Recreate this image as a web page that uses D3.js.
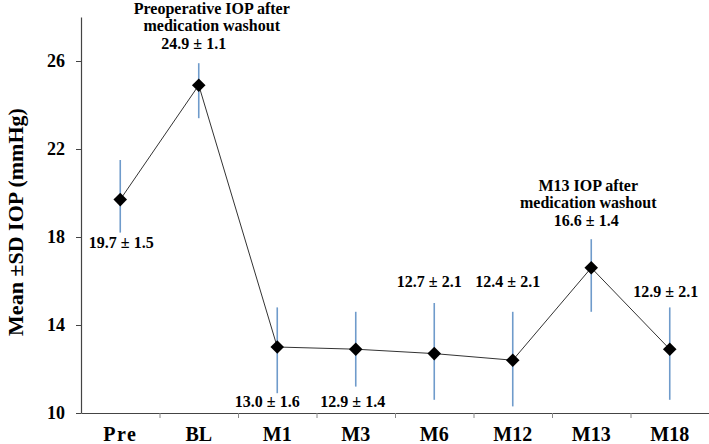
<!DOCTYPE html>
<html>
<head>
<meta charset="utf-8">
<script src="https://cdn.jsdelivr.net/npm/d3@7"></script>
</head>
<body style="margin:0;padding:0;background:#fff">
<svg id="chart" width="709" height="444" style="display:block;background:#fff"></svg>
<script>
// ---- data ----
const categories = ["Pre", "BL", "M1", "M3", "M6", "M12", "M13", "M18"];
const means      = [19.7, 24.9, 13.0, 12.9, 12.7, 12.4, 16.6, 12.9];
const errLow     = [18.2, 23.4, 10.9, 11.2, 10.6, 10.3, 14.6, 10.6];
const errHigh    = [21.5, 25.9, 14.8, 14.6, 15.0, 14.6, 17.9, 14.8];
const valueLabels = ["19.7 \u00b1 1.5", "24.9 \u00b1 1.1", "13.0 \u00b1 1.6", "12.9 \u00b1 1.4",
                     "12.7 \u00b1 2.1", "12.4 \u00b1 2.1", "16.6 \u00b1 1.4", "12.9 \u00b1 2.1"];
const yTicks = [10, 14, 18, 22, 26];
const yTitle = "Mean \u00b1SD IOP (mmHg)";
const noteBL  = ["Preoperative IOP after", "medication washout"];
const noteM13 = ["M13 IOP after", "medication washout"];

// ---- layout ----
const FONT = '"Liberation Serif", "Times New Roman", Tinos, serif';
const svg = d3.select("#chart");
const mLeft = 81, mRight = 709, mTop = 17, mBottom = 413;

const x = d3.scaleBand().domain(categories).range([mLeft, mRight]).padding(0);
const xb = d3.scaleLinear().domain([0, categories.length]).range([mLeft, mRight]);
const y = d3.scaleLinear().domain([10, 28]).range([mBottom, mTop]);
const cx = c => x(c) + x.bandwidth() / 2;

function styleText(sel, size) {
  sel.style("font-family", FONT).style("font-weight", "bold").style("font-size", size + "px").attr("fill", "#000");
}

// y axis
const yAxis = svg.append("g").attr("transform", `translate(${mLeft},0)`)
  .call(d3.axisLeft(y).tickValues(yTicks).tickSize(5).tickPadding(11).tickSizeOuter(0).tickFormat(d3.format("d")));
yAxis.attr("font-family", null);
yAxis.select(".domain").attr("stroke", "#444").attr("stroke-width", 1.2);
yAxis.selectAll(".tick line").attr("stroke", "#444");
styleText(yAxis.selectAll("text"), 18);

// x axis: boundary ticks
const xAxisB = svg.append("g").attr("transform", `translate(0,${mBottom})`)
  .call(d3.axisBottom(xb).tickValues(d3.range(1, categories.length + 1)).tickSize(5).tickSizeOuter(0).tickFormat(""));
xAxisB.select(".domain").attr("stroke", "#444").attr("stroke-width", 1.2);
xAxisB.selectAll(".tick line").attr("stroke", "#888");

// x labels
const xAxisL = svg.append("g").attr("transform", `translate(0,${mBottom})`)
  .call(d3.axisBottom(x).tickSize(0).tickPadding(14));
xAxisL.attr("font-family", null);
xAxisL.select(".domain").remove();
styleText(xAxisL.selectAll("text"), 20);
xAxisL.selectAll("text").filter(d => d === "Pre").style("letter-spacing", "1.5px");

// y title
styleText(svg.append("text")
  .attr("transform", `translate(23,222) rotate(-90)`)
  .attr("text-anchor", "middle")
  .text(yTitle), 22);

// error bars
svg.append("g").selectAll("line").data(categories).join("line")
  .attr("x1", c => cx(c)).attr("x2", c => cx(c))
  .attr("y1", (c, i) => y(errLow[i])).attr("y2", (c, i) => y(errHigh[i]))
  .attr("stroke", "#6f9bcb").attr("stroke-width", 1.6);

// line
const line = d3.line().x((d, i) => cx(categories[i])).y(d => y(d));
svg.append("path").datum(means).attr("d", line)
  .attr("fill", "none").attr("stroke", "#333").attr("stroke-width", 1);

// markers
const diamond = d3.symbol(d3.symbolSquare, 92);
svg.append("g").selectAll("path").data(means).join("path")
  .attr("d", diamond)
  .attr("transform", (d, i) => `translate(${cx(categories[i])},${y(d)}) rotate(45)`)
  .attr("fill", "#000");

// value labels
const labelPos = [
  {dx: 1,  yy: 248}, {dx: -5, yy: 49}, {dx: -10, yy: 407}, {dx: -3, yy: 407},
  {dx: -5, yy: 287}, {dx: -5, yy: 287}, {dx: -5, yy: 226}, {dx: -4, yy: 297}
];
styleText(svg.append("g").selectAll("text").data(valueLabels).join("text")
  .attr("x", (d, i) => cx(categories[i]) + labelPos[i].dx)
  .attr("y", (d, i) => labelPos[i].yy)
  .attr("text-anchor", "middle")
  .text(d => d), 16);

// notes
styleText(svg.append("g").selectAll("text").data(noteBL).join("text")
  .attr("x", cx("BL") + 13).attr("y", (d, i) => 14 + i * 17)
  .attr("text-anchor", "middle").text(d => d), 16);
styleText(svg.append("g").selectAll("text").data(noteM13).join("text")
  .attr("x", cx("M13") - 3).attr("y", (d, i) => 191 + i * 17)
  .attr("text-anchor", "middle").text(d => d), 16);
</script>
</body>
</html>
